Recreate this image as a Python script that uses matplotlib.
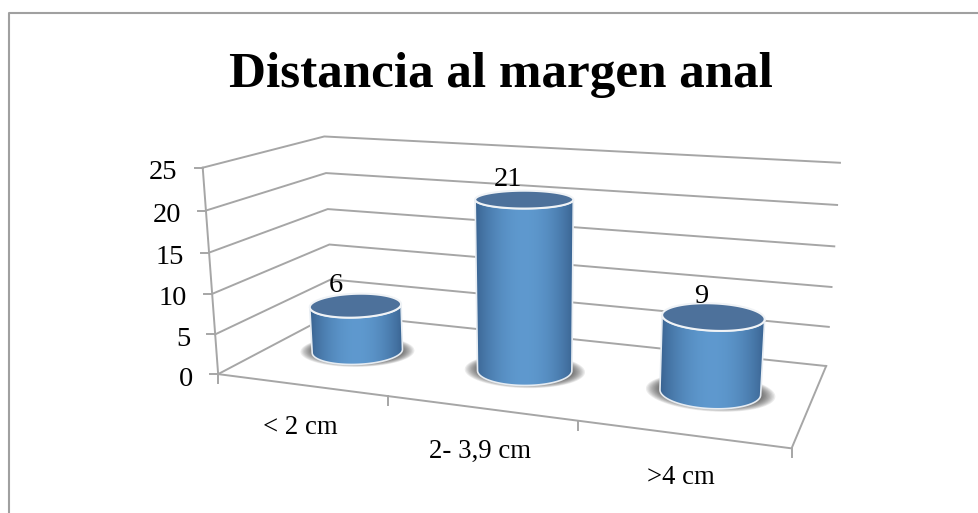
"""3D-style cylinder chart of distance to the anal margin."""

import matplotlib

matplotlib.use("Agg")
import matplotlib.pyplot as plt
import numpy as np
from matplotlib.patches import Polygon

categories = ["< 2 cm", "2- 3,9 cm", ">4 cm"]
values = [6, 21, 9]
value_ticks = [0, 5, 10, 15, 20, 25]
title = "Distancia al margen anal"

GRID = "#a6a6a6"
SERIF = ["Liberation Serif", "DejaVu Serif"]
RADIUS_X = 0.252
RADIUS_D = 0.20

# (category position, depth, value) -> canvas pixel for the box corners
anchors = [
    ((0, 0, 0), (218, 374)),
    ((0, 0, 25), (203, 168)),
    ((0, 1, 25), (324, 136)),
    ((0, 1, 0), (333, 314)),
    ((3, 1, 25), (840, 163)),
    ((3, 1, 0), (826, 366)),
    ((3, 0, 0), (792, 448)),
    ((1, 0, 0), (388, 396)),
    ((2, 0, 0), (578, 421)),
]


def fit_camera(pairs):
    rows, rhs = [], []
    for (x, d, h), (u, v) in pairs:
        rows.append([x, d, h, 1, 0, 0, 0, 0, -u * x, -u * d, -u * h])
        rows.append([0, 0, 0, 0, x, d, h, 1, -v * x, -v * d, -v * h])
        rhs += [u, v]
    sol = np.linalg.lstsq(np.array(rows, float), np.array(rhs, float), rcond=None)[0]
    return np.append(sol, 1.0).reshape(3, 4)


CAMERA = fit_camera(anchors)


def project(x, d, h):
    x, d, h = np.broadcast_arrays(x, d, h)
    pts = np.stack([x, d, h, np.ones_like(x, dtype=float)], axis=-1)
    out = pts @ CAMERA.T
    return out[..., 0] / out[..., 2], out[..., 1] / out[..., 2]


def ring(center, h, grow_x=1.0, grow_d=1.0, n=160):
    t = np.linspace(0, 2 * np.pi, n, endpoint=False)
    xs = center + grow_x * RADIUS_X * np.cos(t)
    ds = 0.5 + grow_d * RADIUS_D * np.sin(t)
    return np.column_stack(project(xs, ds, h))


def front_arc(pts):
    # lower half of a projected ring, from leftmost to rightmost point
    left, right = pts[:, 0].argmin(), pts[:, 0].argmax()
    rolled = np.roll(pts, -left, axis=0)
    k = (right - left) % len(pts)
    if rolled[: k + 1, 1].mean() > rolled[k:, 1].mean():
        return rolled[: k + 1]
    return np.vstack([rolled[k:], rolled[:1]])[::-1]


def draw_cylinder(ax, center, value):
    base = ring(center, 0)
    top = ring(center, value)

    # soft shadow on the floor, flatter than the base
    for gx, gd in zip(np.linspace(1.29, 0.9, 16), np.linspace(1.15, 0.7, 16)):
        pts = ring(center, 0, gx, gd)
        ax.add_patch(Polygon(pts, closed=True, fc="#303030", ec="none", alpha=0.09, zorder=3))

    body = np.vstack([front_arc(base), front_arc(top)[::-1]])
    x0, x1 = body[:, 0].min(), body[:, 0].max()
    y0, y1 = body[:, 1].min(), body[:, 1].max()

    s = np.linspace(0, 1, 200)
    shade = np.clip(np.sin(np.pi * s) ** 0.8, 0, 1)[None, :, None]
    dark = np.array([0.22, 0.38, 0.56])
    light = np.array([0.37, 0.60, 0.81])
    img = ax.imshow(dark + (light - dark) * shade, extent=(x0, x1, y1, y0),
                    aspect="auto", zorder=4, interpolation="bilinear")
    clip = Polygon(body, closed=True, transform=ax.transData)
    img.set_clip_path(clip)

    ax.add_patch(Polygon(body, closed=True, fc="none", ec="#e6ecf2", lw=1.2, zorder=5))
    ax.add_patch(Polygon(top, closed=True, fc="#4d719b", ec="#f0f3f6", lw=1.5, zorder=6))


fig = plt.figure(figsize=(9.79, 5.13), dpi=100)
ax = fig.add_axes([0, 0, 1, 1])
ax.set_xlim(0, 979)
ax.set_ylim(513, 0)
ax.axis("off")

# chart frame, cut off by the page on the right and bottom
ax.plot([9, 9, 979], [513, 12.5, 12.5], color="#a0a0a0", lw=1.5, zorder=1)

ax.text(501, 87, title, family=SERIF, fontsize=36.8, fontweight="bold",
        ha="center", va="baseline", color="black")

# walls and floor of the box
for v in value_ticks:
    xs, ys = project([0, 0, 3], [0, 1, 1], [v, v, v])
    ax.plot(xs, ys, color=GRID, lw=1.4, zorder=2, solid_joinstyle="miter")
    tx, ty = project(0, 0, v)
    ax.plot([tx - 8, tx], [ty, ty], color=GRID, lw=1.4, zorder=2)
    ax.text(tx - 25, ty + 5, str(v), family=SERIF, fontsize=20.5, ha="right", va="center")

xs, ys = project([0, 0], [0, 0], [0, 25])
ax.plot(xs, ys, color=GRID, lw=1.4, zorder=2)
xs, ys = project([0, 3, 3], [0, 0, 1], [0, 0, 0])
ax.plot(xs, ys, color=GRID, lw=1.4, zorder=2, solid_joinstyle="miter")
for i in range(len(categories) + 1):
    tx, ty = project(i, 0, 0)
    ax.plot([tx, tx], [ty, ty + 9], color=GRID, lw=1.4, zorder=2)

for i, (cat, val) in enumerate(zip(categories, values)):
    center = i + 0.5
    draw_cylinder(ax, center, val)
    lx, ly = project(center, 0, 0)
    ax.text(lx - 1, ly + 43, cat, family=SERIF, fontsize=19.3, ha="center", va="center", zorder=8)
    tx, ty = project(center, 0.5, val)
    ax.text(tx - 20 + 4 * i, ty - 20, str(val), family=SERIF, fontsize=20.5, ha="center", va="center", zorder=8)

ax.set_xlim(0, 979)
ax.set_ylim(513, 0)
fig.savefig("out.png", dpi=100)
plt.close(fig)
